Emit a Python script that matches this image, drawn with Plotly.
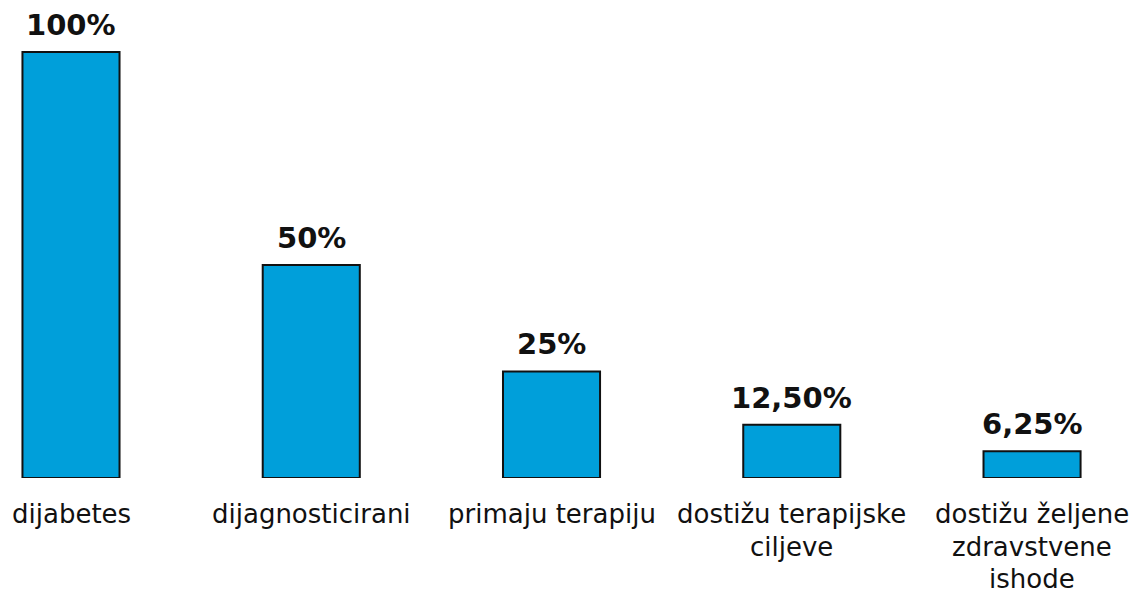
import plotly.graph_objects as go

categories = ["dijabetes", "dijagnosticirani", "primaju terapiju",
              "dostižu terapijske<br>ciljeve", "dostižu željene<br>zdravstvene<br>ishode"]
values = [100, 50, 25, 12.5, 6.25]
value_labels = ["100%", "50%", "25%", "12,50%", "6,25%"]

xs = list(range(len(categories)))
FONT = "DejaVu Sans, Verdana, sans-serif"

fig = go.Figure(go.Bar(
    x=xs, y=values, width=0.404,
    marker=dict(color="#009FDA", line=dict(color="#111111", width=2)),
    hoverinfo="skip",
))

annotations = []
for x, v, lab in zip(xs, values, value_labels):
    annotations.append(dict(x=x, y=v, xref="x", yref="y", text="<b>%s</b>" % lab,
                            showarrow=False, yanchor="bottom", yshift=8,
                            font=dict(family=FONT, size=29, color="#111111")))
for x, c in zip(xs, categories):
    for k, line in enumerate(c.split("<br>")):
        annotations.append(dict(x=x, y=0, xref="x", yref="y", text=line,
                                showarrow=False, yanchor="top", yshift=-19 - 32.5 * k,
                                font=dict(family=FONT, size=26, color="#111111")))

fig.update_layout(
    width=1141, height=590,
    margin=dict(l=0, r=0, t=0, b=120),
    paper_bgcolor="white", plot_bgcolor="white",
    showlegend=False,
    xaxis=dict(range=[-0.2622, 4.4868], visible=False),
    yaxis=dict(range=[0, 110.3], visible=False),
    annotations=annotations,
)

fig.write_html("out.html")
